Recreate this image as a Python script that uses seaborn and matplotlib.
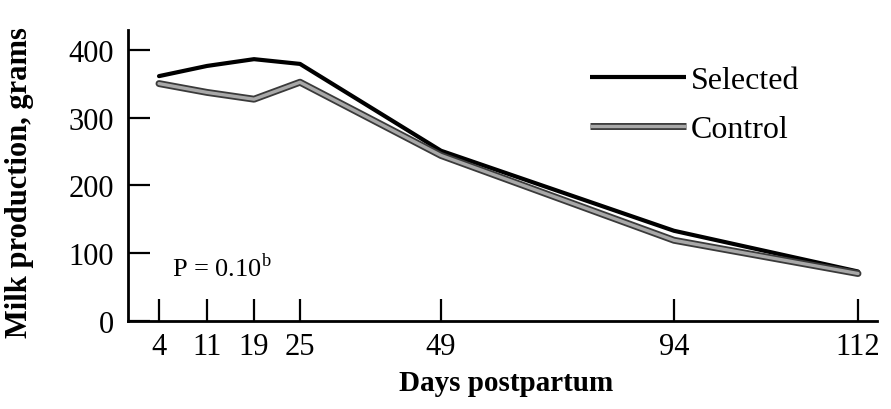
import numpy as np
import matplotlib
matplotlib.use("Agg")
import matplotlib.pyplot as plt
import matplotlib.patheffects as pe
from matplotlib.lines import Line2D
import seaborn as sns

# Milk production (grams) by days postpartum
days = [4, 11, 19, 25, 49, 94, 112]
selected = [361, 376, 386, 379, 251, 133, 73]
control = [350, 337, 327, 352, 244, 119, 70]
y_ticks = [0, 100, 200, 300, 400]
series_names = ["Selected", "Control"]
p_label = "P = 0.10$^{\\mathrm{b}}$"

sns.set_theme(style="ticks")
plt.rcParams["font.family"] = ["Liberation Serif", "DejaVu Serif"]
plt.rcParams["mathtext.fontset"] = "custom"
plt.rcParams["mathtext.rm"] = "Liberation Serif"
plt.rcParams["text.color"] = "black"
plt.rcParams["axes.labelcolor"] = "black"
plt.rcParams["xtick.color"] = "black"
plt.rcParams["ytick.color"] = "black"

W, H = 891, 410
fig = plt.figure(figsize=(W / 100, H / 100), dpi=100)
ax = fig.add_axes([128 / W, 88 / H, 749 / W, 291 / H])

# Uneven day axis: each labelled day sits at a fixed offset (pixels from the
# left spine) and the scale is linear between them.
knot_days = np.array([-100, 4, 11, 19, 25, 49, 94, 112, 300], float)
knot_pos = np.array([31 - 104 * 48 / 7, 31, 79, 126, 172, 313, 546, 730,
                     730 + 188 * 184 / 18])


def forward(d):
    return np.interp(d, knot_days, knot_pos)


def inverse(p):
    return np.interp(p, knot_pos, knot_days)


ax.set_xscale("function", functions=(forward, inverse))

sns.lineplot(x=days, y=selected, color="black", lw=3, ax=ax)
sns.lineplot(x=days, y=control, color="#a8a8a8", lw=2.4, ax=ax)
ctrl_fx = [pe.Stroke(linewidth=5, foreground="#3a3a3a"), pe.Normal()]
ax.lines[-1].set_path_effects(ctrl_fx)

ax.set_xlim(float(inverse(0)), float(inverse(749)))
ax.set_ylim(0, 429)
ax.set_xticks(days)
ax.set_xticklabels([str(d) for d in days])
ax.set_yticks(y_ticks)
ax.minorticks_off()

for side in ("top", "right"):
    ax.spines[side].set_visible(False)
for side in ("left", "bottom"):
    ax.spines[side].set_linewidth(2)
    ax.spines[side].set_color("black")

ax.tick_params(direction="in", length=16, width=1.6, color="black",
               labelsize=22, labelcolor="black")
ax.tick_params(axis="y", pad=10)
ax.tick_params(axis="x", pad=8)

ax.set_xlabel("Days postpartum", fontsize=21, fontweight="bold", va="center")
ax.xaxis.set_label_coords(0.505, -0.21)
ax.set_ylabel("Milk production, grams", fontsize=22, fontweight="bold",
              va="center")
ax.yaxis.set_label_coords(-0.145, 0.48)

handles = [Line2D([], [], color="black", lw=3, solid_capstyle="butt"),
           Line2D([], [], color="#a8a8a8", lw=2.4, solid_capstyle="butt",
                  path_effects=ctrl_fx)]
ax.legend(handles, series_names, loc="upper left",
          bbox_to_anchor=(590 / W, (H - 67) / H), bbox_transform=fig.transFigure,
          frameon=False, fontsize=23, handlelength=3.0, handletextpad=0.15,
          labelspacing=0.6, borderpad=0, borderaxespad=0)

fig.text(172 / W, 1 - 268 / H, p_label, fontsize=19, va="center")

fig.savefig("out.png", dpi=100, facecolor="white")
